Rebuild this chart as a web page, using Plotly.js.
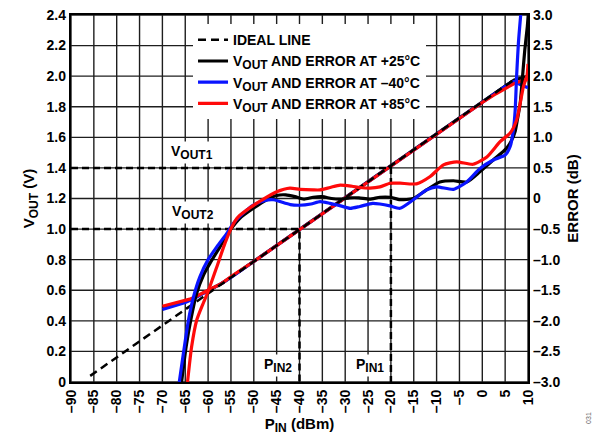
<!DOCTYPE html>
<html><head><meta charset="utf-8">
<script src="https://cdn.plot.ly/plotly-3.0.1.min.js"></script>
<style>html,body{margin:0;padding:0;background:#fff}#chart{width:600px;height:435px}</style>
</head><body><div id="chart"></div>
<script>
// ---- data ----
const xTicks = [-90,-85,-80,-75,-70,-65,-60,-55,-50,-45,-40,-35,-30,-25,-20,-15,-10,-5,0,5,10];
const xTickText = ['–90','–85','–80','–75','–70','–65','–60','–55','–50','–45','–40','–35','–30','–25','–20','–15','–10','–5','0','5','10'];
const yTicks = [0,0.2,0.4,0.6,0.8,1.0,1.2,1.4,1.6,1.8,2.0,2.2,2.4];
const yTickText = ['0','0.2','0.4','0.6','0.8','1.0','1.2','1.4','1.6','1.8','2.0','2.2','2.4'];
const y2Ticks = [-3,-2.5,-2,-1.5,-1,-0.5,0,0.5,1,1.5,2,2.5,3];
const y2TickText = ['–3.0','–2.5','–2.0','–1.5','–1.0','–0.5','0','0.5','1.0','1.5','2.0','2.5','3.0'];

const idealP = [-85.8, 7.8];
const idealV = [0.04, 1.995];

// calibration points
const pinCal = [-20, -40];
const voutCal = [1.4, 1.0];

// VOUT (V)
const vP25 = [-70,-67,-65,-63,-61,-60,-57,-55,-50,-45,-40,-35,-30,-25,-20,-15,-10,-5,0,5,7,8.5,10];
const vV25 = [0.48,0.505,0.525,0.55,0.58,0.598,0.645,0.685,0.788,0.892,0.997,1.101,1.206,1.31,1.415,1.519,1.624,1.728,1.832,1.935,1.975,1.99,2.0];
const vPm40 = [-70,-67,-65,-63,-61,-60,-57,-55,-50,-45,-40,-35,-30,-25,-20,-15,-10,-5,0,5,6.1,7,8.3,10];
const vVm40 = [0.475,0.5,0.52,0.548,0.578,0.597,0.645,0.684,0.788,0.892,0.997,1.101,1.206,1.31,1.415,1.519,1.624,1.728,1.83,1.93,1.955,1.965,1.945,1.925];
const vP85 = [-70,-68,-66,-64,-63,-61,-60,-57,-54.5,-50,-45,-40,-35,-30,-25,-20,-15,-10,-5,0,3,5,7,8.5,10];
const vV85 = [0.495,0.51,0.525,0.542,0.554,0.582,0.6,0.645,0.7,0.788,0.892,0.997,1.101,1.206,1.31,1.415,1.519,1.624,1.725,1.828,1.885,1.92,1.952,1.968,1.98];

// ERROR (dB)
const eP25 = [-65.8,-64.8,-63.8,-62.5,-61.0,-59.6,-57.4,-55.2,-53.0,-50.1,-47.2,-45,-43,-41,-39,-37,-35,-33,-31,-29,-27,-24.6,-22.4,-20.2,-18,-15.1,-12.2,-9.3,-6.3,-3.4,-0.5,2.4,5.3,6.4,7.2,7.7,8.3,8.8,9.3,9.85,10.05];
const eE25 = [-3.0,-2.42,-1.99,-1.55,-1.25,-1.06,-0.79,-0.52,-0.32,-0.16,-0.02,0.05,0.06,0.03,-0.01,0.02,0.03,0.0,-0.01,0.01,0.01,-0.01,0.02,0.02,-0.02,0.0,0.14,0.27,0.29,0.27,0.44,0.63,0.82,0.95,1.1,1.3,1.56,1.99,2.43,2.81,3.0];
const ePm40 = [-66.3,-65.4,-64.3,-63.2,-61.8,-60.0,-58.1,-55.9,-54.5,-52.3,-50.1,-47.5,-45.7,-44.3,-42,-40,-37.5,-35.5,-33.3,-31,-28.9,-26.8,-24,-22.4,-20.2,-18,-15.1,-12.2,-10,-6.3,-3.4,-0.5,2.4,5.0,6.1,6.8,7.2,7.5,7.9,8.4];
const eEm40 = [-3.0,-2.53,-1.99,-1.61,-1.28,-1.0,-0.79,-0.57,-0.41,-0.24,-0.11,-0.03,-0.02,-0.05,-0.10,-0.11,-0.09,-0.05,-0.08,-0.12,-0.16,-0.13,-0.08,-0.09,-0.12,-0.16,-0.02,0.14,0.19,0.15,0.27,0.49,0.63,0.71,0.85,1.12,1.45,1.99,2.54,3.0];
const eP85 = [-64.5,-63.6,-62.5,-61.0,-60.0,-58.1,-56.3,-54.8,-53.4,-50.8,-47.9,-45,-42.1,-39.9,-37,-35.5,-33.3,-31.1,-28.5,-26.8,-24.6,-22.4,-20.2,-18,-14.4,-11.4,-8.5,-5.6,-2.0,1.0,3.9,6.1,7.5,8.3,9.0,9.8,10];
const eE85 = [-3.0,-2.42,-1.99,-1.7,-1.52,-1.12,-0.73,-0.46,-0.30,-0.15,-0.01,0.11,0.17,0.15,0.14,0.14,0.18,0.22,0.20,0.18,0.17,0.19,0.25,0.25,0.24,0.36,0.55,0.60,0.56,0.68,0.93,1.07,1.28,1.56,1.83,2.02,2.2];

const SUB = s => '<sub><span style="font-size:12px">' + s + '</span></sub>';
const legendNames = ['IDEAL LINE','V'+SUB('OUT')+' AND ERROR AT +25°C','V'+SUB('OUT')+' AND ERROR AT –40°C','V'+SUB('OUT')+' AND ERROR AT +85°C'];
const labels = {vout1:'V'+SUB('OUT1'), vout2:'V'+SUB('OUT2'), pin1:'P'+SUB('IN1'), pin2:'P'+SUB('IN2')};

// ---- styling ----
const FONT = 'Liberation Sans, Arial, sans-serif';
const C25 = '#000000', CM40 = '#0a14ff', C85 = '#ff0a0a';
const LW = 3.2;
const GRID = '#1e1e1e';
const xR = [-90, 10], yR = [0, 2.4];

// grid, drawn as one trace built from the tick arrays
const gx = [], gy = [];
xTicks.forEach(v => { gx.push(v, v, null); gy.push(yR[0], yR[1], null); });
yTicks.forEach(v => { gx.push(xR[0], xR[1], null); gy.push(v, v, null); });

const traces = [];
traces.push({x:gx,y:gy,mode:'lines',line:{color:GRID,width:1.4},showlegend:false,connectgaps:false,yaxis:'y',hoverinfo:'skip'});
traces.push({x:vP25,y:vV25,mode:'lines',line:{color:C25,width:LW},name:legendNames[1],legendgroup:'g25',showlegend:true,legendrank:2,yaxis:'y',hoverinfo:'skip'});
traces.push({x:vPm40,y:vVm40,mode:'lines',line:{color:CM40,width:LW},name:legendNames[2],legendgroup:'gm40',showlegend:true,legendrank:3,yaxis:'y',hoverinfo:'skip'});
traces.push({x:vP85,y:vV85,mode:'lines',line:{color:C85,width:LW},name:legendNames[3],legendgroup:'g85',showlegend:true,legendrank:4,yaxis:'y',hoverinfo:'skip'});
traces.push({x:[-90,pinCal[0],pinCal[0]],y:[voutCal[0],voutCal[0],0],mode:'lines',line:{color:'#000',width:2.5,dash:'7px,4px'},showlegend:false,yaxis:'y',hoverinfo:'skip'});
traces.push({x:[-90,pinCal[1],pinCal[1]],y:[voutCal[1],voutCal[1],0],mode:'lines',line:{color:'#000',width:2.5,dash:'7px,4px'},showlegend:false,yaxis:'y',hoverinfo:'skip'});
traces.push({x:idealP,y:idealV,mode:'lines',line:{color:'#000',width:2.5,dash:'8px,5px'},name:legendNames[0],showlegend:true,legendrank:1,yaxis:'y',hoverinfo:'skip'});
traces.push({x:eP25,y:eE25,mode:'lines',line:{color:C25,width:LW,shape:'spline',smoothing:0.6},legendgroup:'g25',showlegend:false,yaxis:'y2',hoverinfo:'skip'});
traces.push({x:ePm40,y:eEm40,mode:'lines',line:{color:CM40,width:LW,shape:'spline',smoothing:0.6},legendgroup:'gm40',showlegend:false,yaxis:'y2',hoverinfo:'skip'});
traces.push({x:eP85,y:eE85,mode:'lines',line:{color:C85,width:LW,shape:'spline',smoothing:0.6},legendgroup:'g85',showlegend:false,yaxis:'y2',hoverinfo:'skip'});

const tickFont = {family:FONT,size:14,color:'#000',weight:'bold'};
const titleFont = {family:FONT,size:15,color:'#000',weight:'bold'};

const layout = {
  width:600,height:435,
  margin:{l:71,r:72,t:15,b:53,pad:0},
  paper_bgcolor:'#fff',plot_bgcolor:'#fff',
  showlegend:true,
  legend:{x:0.267,y:0.975,xanchor:'left',yanchor:'top',bgcolor:'#fff',borderwidth:0,
    font:{family:FONT,size:14,color:'#000',weight:'bold'},tracegroupgap:0,itemwidth:30},
  xaxis:{range:xR,tickvals:xTicks,ticktext:xTickText,tickangle:-90,tickfont:tickFont,
    showgrid:false,zeroline:false,
    showline:true,mirror:true,linecolor:'#000',linewidth:2.2,ticks:'',
    title:{text:'P'+SUB('IN')+' (dBm)',font:titleFont,standoff:8}},
  yaxis:{range:yR,tickvals:yTicks,ticktext:yTickText,tickfont:tickFont,
    showgrid:false,zeroline:false,
    showline:true,mirror:false,linecolor:'#000',linewidth:2.2,ticks:'',
    title:{text:'V'+SUB('OUT')+' (V)',font:titleFont,standoff:8}},
  yaxis2:{range:[-3,3],overlaying:'y',side:'right',tickvals:y2Ticks,ticktext:y2TickText,tickfont:tickFont,
    showgrid:false,zeroline:false,showline:true,linecolor:'#000',linewidth:2.2,ticks:'',
    title:{text:'ERROR (dB)',font:titleFont,standoff:8}},
  annotations:[
    {x:-63.5,y:1.5,xref:'x',yref:'y',text:labels.vout1,showarrow:false,bgcolor:'#fff',borderpad:1,font:{family:FONT,size:14,color:'#000',weight:'bold'}},
    {x:-63.3,y:1.11,xref:'x',yref:'y',text:labels.vout2,showarrow:false,bgcolor:'#fff',borderpad:1,font:{family:FONT,size:14,color:'#000',weight:'bold'}},
    {x:-44.7,y:0.105,xref:'x',yref:'y',text:labels.pin2,showarrow:false,bgcolor:'#fff',borderpad:1,font:{family:FONT,size:14,color:'#000',weight:'bold'}},
    {x:-24.6,y:0.105,xref:'x',yref:'y',text:labels.pin1,showarrow:false,bgcolor:'#fff',borderpad:1,font:{family:FONT,size:14,color:'#000',weight:'bold'}},
    {x:1.143,y:-0.12,xref:'paper',yref:'paper',text:'031',textangle:-90,showarrow:false,font:{family:FONT,size:7,color:'#666'}}
  ]
};
Plotly.newPlot('chart',traces,layout,{staticPlot:true,displayModeBar:false});
</script></body></html>
